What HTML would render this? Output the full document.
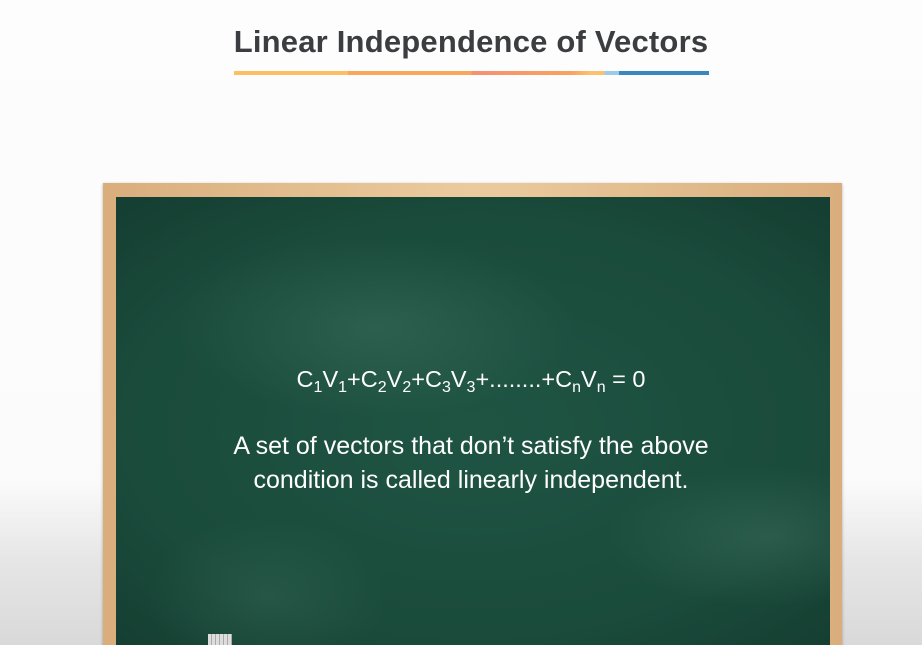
<!DOCTYPE html>
<html><head><meta charset="utf-8"><style>
html,body{margin:0;padding:0;width:922px;height:645px;overflow:hidden}
body{position:relative;font-family:"Liberation Sans",sans-serif;background:linear-gradient(to bottom,#fdfdfd 0,#fbfbfb 480px,#e6e6e6 560px,#d9d9d9 645px)}
#title{position:absolute;left:0;width:942px;top:24px;text-align:center;font-size:31px;font-weight:bold;color:#3b3d40;letter-spacing:0.2px}
#underline{position:absolute;left:234px;top:71px;width:475px;height:4px;background:linear-gradient(to right,#fcc063 0,#fcc063 24%,#f9a75a 24%,#f9a75a 50%,#f79070 50%,#f8a35e 71%,#fbc26d 75%,#fbc26d 78%,#9ccbe8 78%,#9ccbe8 81%,#3a88c0 81%)}
#frame{position:absolute;left:103px;top:183px;width:739px;height:480px;background:linear-gradient(to right,#d9ae7c,#ebcb9e 50%,#d9ae7c);box-shadow:0 1px 3px rgba(0,0,0,.3)}
#board{position:absolute;left:116px;top:197px;width:714px;height:460px;background:
radial-gradient(ellipse 200px 90px at 260px 130px,rgba(120,170,150,.18),transparent),
radial-gradient(ellipse 160px 70px at 650px 340px,rgba(120,170,150,.18),transparent),
radial-gradient(ellipse 120px 80px at 150px 400px,rgba(120,170,150,.12),transparent),
radial-gradient(ellipse 500px 300px at 50% 50%,#1f5443,#1a4b3b 70%,#153f32)}
.t{position:absolute;left:0;width:942px;text-align:center;color:#fff}
#eq{top:366px;font-size:23.5px}
sub{font-size:16px;vertical-align:-5px;line-height:0}
#l1{top:432px;font-size:25px}
#l2{top:466px;font-size:25px}
#chalk{position:absolute;left:208px;top:634px;width:24px;height:11px;background:repeating-linear-gradient(to right,#ddd 0,#ddd 3px,#aaa 3px,#aaa 4px)}
</style></head><body>
<div id="title">Linear Independence of Vectors</div>
<div id="underline"></div>
<div id="frame"></div>
<div id="board"></div>
<div id="eq" class="t">C<sub>1</sub>V<sub>1</sub>+C<sub>2</sub>V<sub>2</sub>+C<sub>3</sub>V<sub>3</sub>+........+C<sub>n</sub>V<sub>n</sub> = 0</div>
<div id="l1" class="t">A set of vectors that don’t satisfy the above</div>
<div id="l2" class="t">condition is called linearly independent.</div>
<div id="chalk"></div>
</body></html>
